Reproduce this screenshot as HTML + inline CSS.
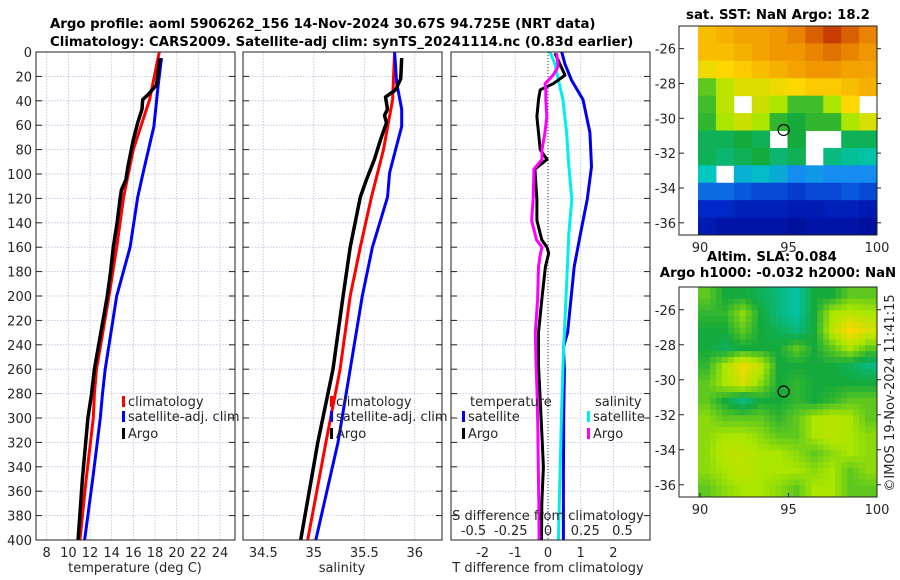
<!DOCTYPE html>
<html><head><meta charset="utf-8"><style>
html,body{margin:0;padding:0;background:#fff;}
svg{display:block;font-family:"DejaVu Sans","Liberation Sans",sans-serif;}
.t{font-size:13px;fill:#262626;}
.b{font-size:13.3px;font-weight:bold;fill:#000;}
</style></head><body>
<svg id="chart" width="900" height="580" viewBox="0 0 900 580" xmlns="http://www.w3.org/2000/svg">
<text class="b" x="50" y="28" text-anchor="start">Argo profile: aoml 5906262_156 14-Nov-2024 30.67S 94.725E (NRT data)</text>
<text class="b" x="50" y="46" text-anchor="start">Climatology: CARS2009. Satellite-adj clim: synTS_20241114.nc (0.83d earlier)</text>
<g id="g"></g>
</svg>
<script>
// ---------- data ----------
const depthTicks=[0,20,40,60,80,100,120,140,160,180,200,220,240,260,280,300,320,340,360,380,400];
const tempTicks=[8,10,12,14,16,18,20,22,24];
const salTicks=[34.5,35,35.5,36];
const tdTicks=[-2,-1,0,1,2];
const sdTicks=[-0.5,-0.25,0,0.25,0.5];
const sdTickLabels=["-0.5","-0.25","0","0.25","0.5"];

const tClimDepth=[0,39,80,119,160,200,260,280,300,350,400];
const tClimVal=[18.4,17.5,16.0,15.1,14.46,13.75,12.6,12.4,12.3,11.65,11.07];
const tSatDepth=[5,27,61,80,99,119,160,200,260,280,300,350,400];
const tSatVal=[18.6,18.3,17.9,17.4,16.9,16.4,15.7,14.46,13.4,13.15,12.95,12.25,11.5];
const tArgoDepth=[5,27,35,39,47,58,72,94,105,113,119,140,160,180,200,260,280,300,350,400];
const tArgoVal=[18.45,18.15,17.35,16.86,16.8,16.4,16.0,15.5,15.3,14.9,14.8,14.5,14.15,13.9,13.6,12.4,12.15,11.8,11.3,10.9];

const sClimDepth=[0,39,80,119,160,200,260,320,400];
const sClimVal=[35.80,35.78,35.69,35.57,35.46,35.36,35.26,35.12,34.94];
const sSatDepth=[0,25,47,61,80,99,119,160,200,260,320,400];
const sSatVal=[35.80,35.82,35.87,35.87,35.81,35.75,35.73,35.58,35.48,35.36,35.24,35.02];
const sArgoDepth=[5,22,31,37,47,52,58,72,88,105,119,160,200,260,320,400];
const sArgoVal=[35.87,35.86,35.81,35.71,35.73,35.70,35.72,35.66,35.60,35.52,35.46,35.36,35.29,35.19,35.04,34.87];

const dDepth=[0,10,23,39,66,94,121,148,176,203,230,242,260,300,350,400];
const dTSat=[0.42,0.52,0.72,1.07,1.28,1.33,1.2,1.0,0.8,0.7,0.6,0.47,0.5,0.48,0.47,0.47];
const dSSat=[0.013,0.047,0.07,0.10,0.125,0.14,0.16,0.14,0.13,0.12,0.11,0.105,0.1,0.09,0.08,0.07];
const dArgoDepth=[1,12,19,26,31,39,53,66,80,88,96,121,138,154,160,165,176,203,230,257,285,312,340,370,400];
const dTArgo=[0.21,0.4,0.52,0.16,-0.24,-0.29,-0.34,-0.29,-0.24,-0.03,-0.4,-0.34,-0.34,-0.19,-0.03,0.02,-0.08,-0.19,-0.29,-0.29,-0.24,-0.19,-0.14,-0.19,-0.2];
const dSArgo=[0.058,0.068,0.034,-0.02,-0.015,-0.015,-0.008,-0.02,-0.04,-0.04,-0.094,-0.1,-0.11,-0.077,-0.04,-0.05,-0.064,-0.07,-0.085,-0.08,-0.072,-0.068,-0.065,-0.062,-0.06];

const sstGrid=[
[.74,.76,.78,.78,.8,.82,.86,.9,.86,.82],
[.74,.74,.76,.78,.8,.8,.82,.84,.82,.8],
[.68,.7,.72,.74,.76,.78,.8,.8,.78,.78],
[.55,.62,.66,.66,.68,.7,.72,.72,.74,.76],
[.53,.62,null,.64,.6,.53,.53,.6,.7,null],
[.52,.6,.64,.6,.52,.5,.52,.52,.6,.65],
[.48,.48,.5,.48,null,.5,null,null,.48,.48],
[.48,.46,.48,.5,.46,.48,null,.45,.43,.42],
[.4,null,.36,.38,.35,.3,.32,.3,.3,.3],
[.25,.25,.22,.2,.2,.18,.2,.2,.22,.2],
[.15,.15,.12,.12,.12,.1,.1,.12,.12,.1],
[.1,.08,.08,.08,.08,.06,.08,.08,.08,.06]];
const slaGrid=[
[.55,.5,.5,.48,.45,.42,.5,.5,.55,.55],
[.52,.52,.58,.5,.45,.42,.5,.6,.62,.6],
[.5,.5,.55,.5,.48,.45,.5,.62,.7,.65],
[.5,.48,.5,.5,.5,.55,.5,.55,.6,.55],
[.52,.6,.68,.62,.5,.5,.5,.5,.48,.45],
[.55,.6,.65,.58,.5,.52,.5,.5,.5,.5],
[.55,.5,.45,.5,.5,.52,.5,.52,.55,.55],
[.58,.55,.55,.55,.52,.55,.6,.62,.6,.55],
[.58,.6,.6,.58,.55,.55,.6,.62,.6,.58],
[.58,.62,.62,.6,.6,.58,.55,.58,.6,.58],
[.58,.6,.62,.6,.6,.6,.58,.6,.55,.58],
[.55,.58,.6,.6,.58,.55,.6,.6,.55,.55]];
const latTicks=[-26,-28,-30,-32,-34,-36];
const lonTicks=[90,95,100];
const argoLon=94.725, argoLat=-30.67;

// ---------- scales ----------
const NS="http://www.w3.org/2000/svg";
const G=document.getElementById('g');
function mk(tag,attrs,parent){const e=document.createElementNS(NS,tag);for(const k in attrs)e.setAttribute(k,attrs[k]);(parent||G).appendChild(e);return e;}
const yD=d=>52+d*1.22;
const xT=t=>46.7+(t-8)*10.83;
const xS=s=>263.3+(s-34.5)*101;
const xTD=t=>548+t*32.7;
const xSD=s=>548+s*149;
const TOP=52,BOT=540;

function panel(name){
  const g=mk('g',{});
  
  
  return g;
}
function grid(g,x0,x1,xs,xf,ylabels){
  depthTicks.forEach(d=>{const y=yD(d);
    const l=mk('line',{x1:x0,x2:x1,y1:y,y2:y,stroke:'#b8c0dd','stroke-width':0.8,'stroke-dasharray':'1.5,1.5'},g);
    
    
    mk('line',{x1:x0,x2:x0+6,y1:y,y2:y,stroke:'#222','stroke-width':1},g);
    mk('line',{x1:x1-6,x2:x1,y1:y,y2:y,stroke:'#222','stroke-width':1},g);
    if(ylabels){const t=mk('text',{x:x0-4,y:y+5,'text-anchor':'end',class:'t'},g);t.textContent=d;
      
      }
  });
  xs.forEach(v=>{const x=xf(v);
    const l=mk('line',{x1:x,x2:x,y1:TOP,y2:BOT,stroke:'#b8c0dd','stroke-width':0.8,'stroke-dasharray':'1.5,1.5'},g);
    
    
  });
}
function box(g,x0,x1){mk('rect',{x:x0,y:TOP,width:x1-x0,height:BOT-TOP,fill:'none',stroke:'#222','stroke-width':1},g);}
function xlabels(g,vals,labels,xf,y){vals.forEach((v,i)=>{const t=mk('text',{x:xf(v),y:y,'text-anchor':'middle',class:'t'},g);t.textContent=labels?labels[i]:v;
  
  });}
function line(g,ds,vs,xf,color,name,w){
  const pts=ds.map((d,i)=>xf(vs[i]).toFixed(1)+','+yD(d).toFixed(1)).join(' ');
  const p=mk('polyline',{points:pts,fill:'none',stroke:color,'stroke-width':w||3,'stroke-linejoin':'round'},g);
  
  
}
function legend(g,x,y,color,label,name){
  mk('rect',{x:x-3,y:y-10,width:3,height:11,fill:color},g);
  const t=mk('text',{x:x+3,y:y,class:'t'},g);t.textContent=label;
  
  
}
function txt(g,x,y,s,name,anchor,cls){const t=mk('text',{x:x,y:y,'text-anchor':anchor||'middle',class:cls||'t'},g);t.textContent=s;
  
  return t;}

// Panel 1
let g1=panel('temperature-panel');
grid(g1,36,235,tempTicks,xT,true);
line(g1,tClimDepth,tClimVal,xT,'#ff0000','temp-climatology-line');
line(g1,tSatDepth,tSatVal,xT,'#0000ff','temp-satellite-line');
line(g1,tArgoDepth,tArgoVal,xT,'#000','temp-argo-line',3.5);
box(g1,36,235);
xlabels(g1,tempTicks,null,xT,557);
txt(g1,135,572,'temperature (deg C)','x-axis-title-temperature');
legend(g1,125,406,'#ff0000','climatology','legend-climatology');
legend(g1,125,421,'#0000ff','satellite-adj. clim','legend-satellite');
legend(g1,125,438,'#000','Argo','legend-argo');

// Panel 2
let g2=panel('salinity-panel');
grid(g2,243,442,salTicks,xS,false);
line(g2,sClimDepth,sClimVal,xS,'#ff0000','sal-climatology-line');
line(g2,sSatDepth,sSatVal,xS,'#0000ff','sal-satellite-line');
line(g2,sArgoDepth,sArgoVal,xS,'#000','sal-argo-line',3.5);
box(g2,243,442);
xlabels(g2,salTicks,null,xS,557);
txt(g2,342,572,'salinity','x-axis-title-salinity');
legend(g2,333,406,'#ff0000','climatology','legend-climatology-2');
legend(g2,333,421,'#0000ff','satellite-adj. clim','legend-satellite-2');
legend(g2,333,438,'#000','Argo','legend-argo-2');

// Panel 3
let g3=panel('difference-panel');
grid(g3,451,650,tdTicks,xTD,false);
mk('line',{x1:xTD(0),x2:xTD(0),y1:TOP,y2:BOT,stroke:'#333','stroke-width':1,'stroke-dasharray':'1,2'},g3);
line(g3,dDepth,dTSat,xTD,'#0000ee','tdiff-satellite-line');
line(g3,dDepth,dSSat,xSD,'#00eeee','sdiff-satellite-line');
line(g3,dArgoDepth,dTArgo,xTD,'#000','tdiff-argo-line');
line(g3,dArgoDepth,dSArgo,xSD,'#ff00ff','sdiff-argo-line');
box(g3,451,650);
xlabels(g3,tdTicks,null,xTD,557);
txt(g3,548,572,'T difference from climatology','x-axis-title-tdiff');
txt(g3,548,520,'S difference from climatology','top-axis-title-sdiff');
xlabels(g3,sdTicks,sdTickLabels,xSD,535);
txt(g3,470,406,'temperature','legend-title-temperature','start');
txt(g3,595,406,'salinity','legend-title-salinity','start');
legend(g3,465,421,'#0000ee','satellite','legend-t-satellite');
legend(g3,465,438,'#000','Argo','legend-t-argo');
legend(g3,590,421,'#00eeee','satellite','legend-s-satellite');
legend(g3,590,438,'#ff00ff','Argo','legend-s-argo');

// ---------- maps ----------
const stops=[[0,[0,0,130]],[0.15,[0,40,200]],[0.3,[20,140,240]],[0.4,[0,200,190]],[0.5,[20,170,60]],[0.6,[170,230,0]],[0.7,[255,215,0]],[0.8,[240,150,0]],[0.9,[200,60,0]],[1,[150,0,0]]];
function cmap(v){for(let i=1;i<stops.length;i++){if(v<=stops[i][0]){const a=stops[i-1],b=stops[i];const f=(v-a[0])/(b[0]-a[0]);
  const c=a[1].map((x,k)=>Math.round(x+(b[1][k]-x)*f));return 'rgb('+c.join(',')+')';}}return 'rgb(150,0,0)';}
function sample(gridV,r,c){
  const R=gridV.length,C=gridV[0].length;
  r=Math.max(0,Math.min(R-1,r));c=Math.max(0,Math.min(C-1,c));
  const r0=Math.floor(r),c0=Math.floor(c),r1=Math.min(R-1,r0+1),c1=Math.min(C-1,c0+1),fr=r-r0,fc=c-c0;
  const v=[gridV[r0][c0],gridV[r0][c1],gridV[r1][c0],gridV[r1][c1]];
  if(v.some(x=>x===null))return gridV[Math.round(r)][Math.round(c)];
  return (v[0]*(1-fc)+v[1]*fc)*(1-fr)+(v[2]*(1-fc)+v[3]*fc)*fr;
}
function drawMap(gridV,top,bot,name,title1,title2,smooth){
  const g=mk('g',{});
  
  
  const left=698,right=877;
  const xL=lon=>700+(lon-90)*17.7;
  const yL=lat=>top+(-24.7-lat)*(bot-top)/12;
  const sub=smooth?3:1;
  const R=gridV.length*sub,C=gridV[0].length*sub;
  const cw=(right-left)/C, ch=(bot-top)/R;
  for(let r=0;r<R;r++)for(let c=0;c<C;c++){
    const v=smooth?sample(gridV,(r+0.5)/sub-0.5,(c+0.5)/sub-0.5):gridV[r][c];
    if(v===null)continue;
    const rc=mk('rect',{x:(left+c*cw).toFixed(2),y:(top+r*ch).toFixed(2),width:(cw+0.5).toFixed(2),height:(ch+0.5).toFixed(2),fill:cmap(v)},g);
    
    
  }
  mk('rect',{x:679,y:top,width:right-679,height:bot-top,fill:'none',stroke:'#222','stroke-width':1},g);
  latTicks.forEach(l=>{const y=yL(l);
    mk('line',{x1:679,x2:684,y1:y,y2:y,stroke:'#222'},g);
    mk('line',{x1:right,x2:right+4,y1:y,y2:y,stroke:'#222'},g);
    txt(g,676,y+5,String(l),'lat-tick-label','end');});
  lonTicks.forEach(l=>{const x=xL(l);
    mk('line',{x1:x,x2:x,y1:bot,y2:bot-4,stroke:'#222'},g);
    txt(g,x,bot+17,String(l),'lon-tick-label');});
  const c=mk('circle',{cx:xL(argoLon),cy:yL(argoLat),r:5.5,fill:'none',stroke:'#000','stroke-width':1.2},g);
  
  
  if(title2){txt(g,772,top-26,title1,'map-title','middle','b');txt(g,778,top-10,title2,'map-subtitle','middle','b');}
  else txt(g,778,top-7,title1,'map-title','middle','b');
}
drawMap(sstGrid,26,235,'sst-map','sat. SST: NaN Argo: 18.2',null,false);
drawMap(slaGrid,287,497,'sla-map','Altim. SLA: 0.084','Argo h1000: -0.032 h2000: NaN',true);
const cp=txt(G,0,0,'©IMOS 19-Nov-2024 11:41:15','copyright-text','middle');
cp.setAttribute('transform','translate(894,393) rotate(-90)');
</script>
</body></html>
